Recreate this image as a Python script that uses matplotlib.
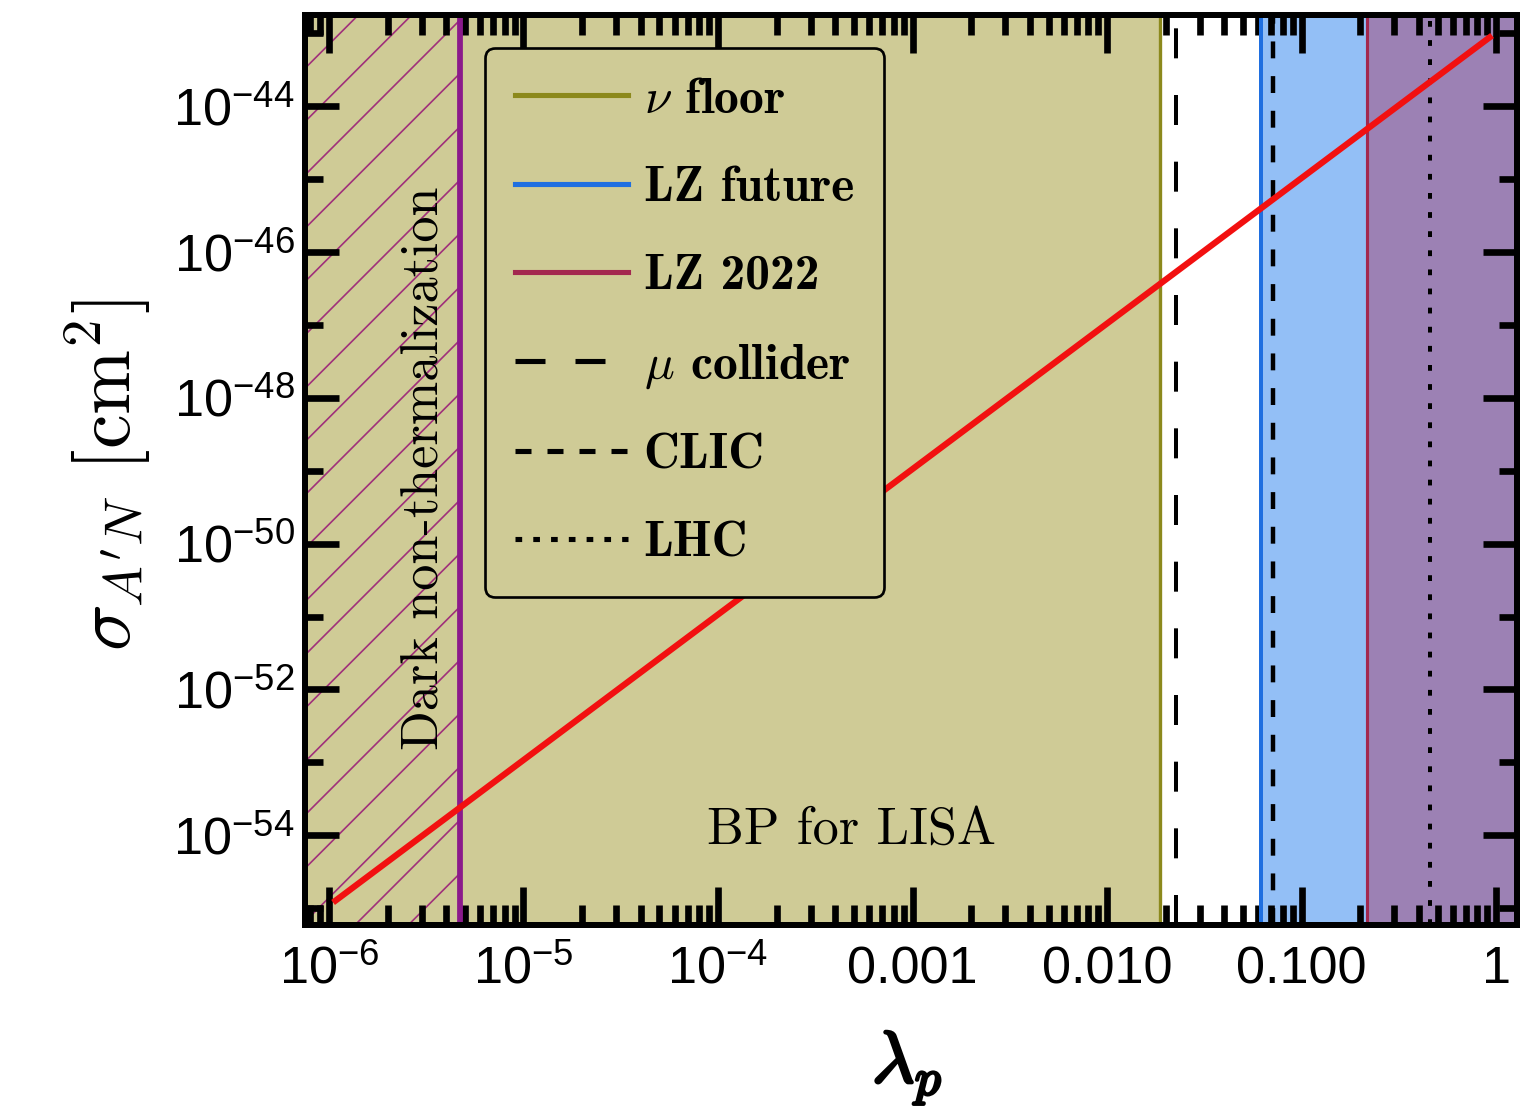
import matplotlib
matplotlib.use("Agg")
import matplotlib.pyplot as plt
import matplotlib.patheffects as pe
from matplotlib.lines import Line2D
from matplotlib.font_manager import FontProperties
from matplotlib.ticker import FixedLocator, FixedFormatter, LogLocator, NullFormatter

# ---------------- data ----------------
x_limits = [7.53e-7, 1.28]
y_limits = [10 ** -55.23, 10 ** -42.75]

# benchmark line sigma_{A'N}(lambda_p)
lam_p = [1.05e-6, 0.953]
sigma_AN = [1.2e-55, 9.3e-44]

# vertical bounds on lambda_p
lam_nonthermal = 4.72e-6
lam_nu_floor = 0.0186
lam_mu_collider = 0.0226
lam_lz_future = 0.0617
lam_clic = 0.0711
lam_lz2022 = 0.216
lam_lhc = 0.458

x_major = [1e-6, 1e-5, 1e-4, 1e-3, 1e-2, 1e-1, 1]
x_labels = [r"10$^{-6}$", r"10$^{-5}$", r"10$^{-4}$", "0.001", "0.010", "0.100", "1"]
y_major = [1e-54, 1e-52, 1e-50, 1e-48, 1e-46, 1e-44]
y_labels = [r"10$^{-54}$", r"10$^{-52}$", r"10$^{-50}$", r"10$^{-48}$", r"10$^{-46}$", r"10$^{-44}$"]
y_minor = [1e-55, 1e-53, 1e-51, 1e-49, 1e-47, 1e-45, 1e-43]

legend_labels = [r"$\nu$ floor", "LZ future", "LZ 2022", r"$\mu$ collider", "CLIC", "LHC"]

# ---------------- style ----------------
olive_fill = "#cfcb96"
blue_fill = "#93bff6"
purple_fill = "#9c81b4"
hatch_col = "#a0307a"
olive_line = "#8c891c"
blue_line = "#1f6fe0"
crimson_line = "#a3284f"
magenta_line = "#8b1a8b"

plt.rcParams.update({
    "font.family": ["Liberation Sans", "DejaVu Sans"],
    "mathtext.fontset": "custom",
    "mathtext.rm": "Liberation Sans",
    "mathtext.it": "Liberation Sans:italic",
    "mathtext.bf": "Liberation Sans:bold",
    "lines.scale_dashes": False,
    "hatch.linewidth": 0.75,
})

DPI = 160
fig = plt.figure(figsize=(1522 / DPI, 1115 / DPI), dpi=DPI)
ax = fig.add_axes([305 / 1522, 1 - 925 / 1115, 1212 / 1522, 910 / 1115])
ax.set_xscale("log")
ax.set_yscale("log")
ax.set_xlim(*x_limits)
ax.set_ylim(*y_limits)

# regions
ax.axvspan(x_limits[0], lam_nu_floor, facecolor=olive_fill, lw=0, zorder=0)
ax.axvspan(lam_lz_future, lam_lz2022, facecolor=blue_fill, lw=0, zorder=0)
ax.axvspan(lam_lz2022, x_limits[1], facecolor=purple_fill, lw=0, zorder=0)
ax.axvspan(x_limits[0], lam_nonthermal, facecolor="none", edgecolor=hatch_col,
           hatch="/", lw=0, zorder=0.5)

# bounds
ax.axvline(lam_nonthermal, color=magenta_line, lw=2.6, zorder=2)
ax.axvline(lam_nu_floor, color=olive_line, lw=1.5, zorder=2)
ax.axvline(lam_mu_collider, color="black", lw=1.8, dashes=(13.5, 16.5), zorder=2)
ax.axvline(lam_lz_future, color=blue_line, lw=1.8, zorder=2)
ax.axvline(lam_clic, color="black", lw=2.0, dashes=(7.6, 8.0), zorder=2)
ax.axvline(lam_lz2022, color=crimson_line, lw=1.4, zorder=2)
ax.axvline(lam_lhc, color="black", lw=1.8, dashes=(2.6, 6.0), zorder=2)

# benchmark line
ax.plot(lam_p, sigma_AN, color="#f21010", lw=2.8, solid_capstyle="butt", zorder=3)

# texts
ax.text(0.4513, 0.1044, "BP for LISA", transform=ax.transAxes, ha="center",
        va="center", family="cmr10", fontsize=23.5, zorder=4)
ax.text(0.099, 0.502, "Dark non-thermalization", transform=ax.transAxes,
        ha="center", va="center", rotation=90, family="cmr10", fontsize=23.5, zorder=4)

# legend
handles = [
    Line2D([], [], color=olive_line, lw=2.3),
    Line2D([], [], color=blue_line, lw=2.3),
    Line2D([], [], color=crimson_line, lw=2.3),
    Line2D([], [], color="black", lw=2.3, dashes=(13.5, 13.5)),
    Line2D([], [], color="black", lw=2.3, dashes=(7.2, 7.2)),
    Line2D([], [], color="black", lw=2.3, dashes=(3.0, 5.0)),
]
leg = ax.legend(handles, legend_labels, loc="upper left",
                bbox_to_anchor=(0.1485, 0.9637), borderaxespad=0,
                prop=FontProperties(family="cmb10", size=22.3),
                handlelength=2.28, handletextpad=0.32, labelspacing=0.87,
                borderpad=0.6, frameon=True, fancybox=True, framealpha=1)
leg.get_frame().set_facecolor(olive_fill)
leg.get_frame().set_edgecolor("black")
leg.get_frame().set_linewidth(1.2)
leg.set_zorder(5)
for t in leg.get_texts():
    t.set_math_fontfamily("cm")

# ticks
ax.xaxis.set_major_locator(FixedLocator(x_major))
ax.xaxis.set_major_formatter(FixedFormatter(x_labels))
ax.xaxis.set_minor_locator(LogLocator(base=10, subs=[2, 3, 4, 5, 6, 7, 8, 9], numticks=20))
ax.xaxis.set_minor_formatter(NullFormatter())
ax.yaxis.set_major_locator(FixedLocator(y_major))
ax.yaxis.set_major_formatter(FixedFormatter(y_labels))
ax.yaxis.set_minor_locator(FixedLocator(y_minor))
ax.yaxis.set_minor_formatter(NullFormatter())

ax.tick_params(axis="both", which="both", direction="in", top=True, right=True,
               color="black", width=3.0, labelsize=23.5)
ax.tick_params(axis="x", which="major", length=17, pad=9)
ax.tick_params(axis="x", which="minor", length=9)
ax.tick_params(axis="y", which="major", length=15.5, pad=4.5)
ax.tick_params(axis="y", which="minor", length=8)
for s in ax.spines.values():
    s.set_linewidth(2.7)
    s.set_zorder(6)

# axis labels
ax.set_ylabel(r"$\sigma_{A^{\prime}N}$ [cm$^{2}$]", family="cmr10", fontsize=35,
              math_fontfamily="cm", va="center")
ax.yaxis.set_label_coords(-(305 - 108) / 1212, (925 - 475) / 910)
ax.set_xlabel(r"$\lambda_p$", fontsize=33, math_fontfamily="cm", va="center",
              path_effects=[pe.withStroke(linewidth=1.3, foreground="black")])
ax.xaxis.set_label_coords((907 - 305) / 1212, -(1068 - 925) / 910)

fig.savefig("out.png", dpi=DPI)
